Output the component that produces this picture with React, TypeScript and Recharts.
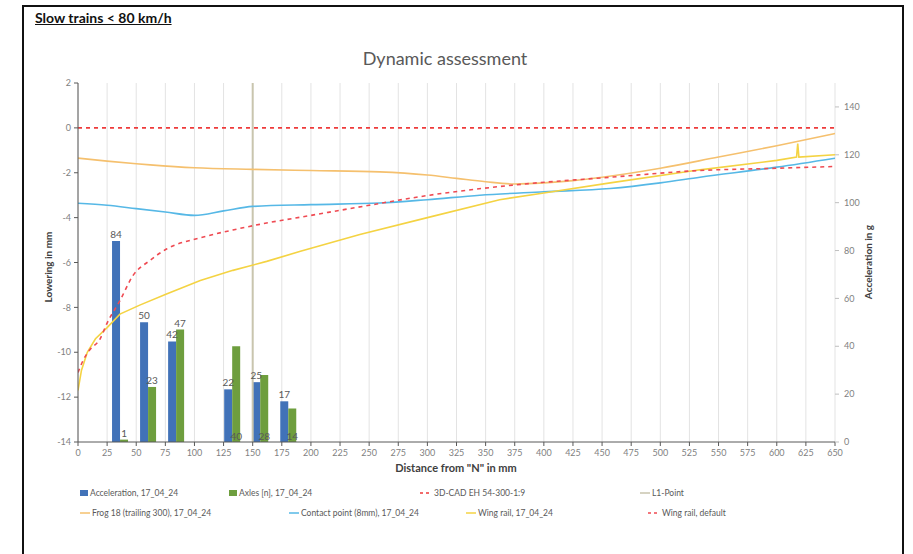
import React from 'react';
import { ComposedChart, Bar, Line, XAxis, YAxis, CartesianGrid, LabelList } from 'recharts';

// Category slots for the bar series (one per 25 mm step)
const slots = [0, 25, 50, 75, 100, 125, 150, 175, 200, 225, 250, 275, 300, 325, 350, 375, 400, 425, 450, 475, 500, 525, 550, 575, 600, 625, 650];
const acceleration = [null, 84, 50, 42, null, 22, 25, 17, null, null, null, null, null, null, null, null, null, null, null, null, null, null, null, null, null, null, null];
const axles = [null, 1, 23, 47, null, 40, 28, 14, null, null, null, null, null, null, null, null, null, null, null, null, null, null, null, null, null, null, null];
const axlesLabelAtBase = [125, 150, 175];

// Line series (distance in mm, lowering in mm)
const cadX = [0, 650];
const cadY = [0, 0];

const l1X = [150, 150];
const l1Y = [2, -14];

const frogX = [0, 25, 50, 62, 100, 150, 200, 259, 300, 325, 350, 375, 400, 425, 450, 500, 550, 600, 650];
const frogY = [-1.35, -1.48, -1.6, -1.65, -1.78, -1.85, -1.9, -1.96, -2.1, -2.25, -2.4, -2.5, -2.45, -2.35, -2.2, -1.8, -1.3, -0.8, -0.25];

const contactX = [0, 25, 50, 75, 100, 125, 150, 200, 259, 300, 345, 400, 457, 500, 534, 600, 650];
const contactY = [-3.36, -3.45, -3.6, -3.75, -3.9, -3.7, -3.5, -3.42, -3.35, -3.2, -3.0, -2.85, -2.7, -2.45, -2.2, -1.75, -1.35];

const wingX = [0, 3, 8, 15, 25, 36, 53, 76, 105, 133, 162, 191, 242, 300, 362, 400, 457, 534, 600, 617, 618, 619, 650];
const wingY = [-11.7, -10.8, -10.0, -9.4, -8.9, -8.3, -7.9, -7.4, -6.8, -6.35, -5.95, -5.5, -4.75, -4.0, -3.2, -2.9, -2.45, -1.87, -1.45, -1.3, -0.7, -1.3, -1.2];

const wingDefX = [0, 5, 10, 19, 25, 36, 47, 62, 76, 105, 133, 156, 200, 250, 302, 374, 457, 534, 600, 650];
const wingDefY = [-10.9, -10.3, -9.9, -9.4, -8.7, -7.7, -6.6, -5.9, -5.4, -4.9, -4.55, -4.3, -3.9, -3.45, -3.0, -2.55, -2.2, -1.9, -1.8, -1.72];

const xTicks = slots;
const leftTicks = [2, 0, -2, -4, -6, -8, -10, -12, -14];
const rightTicks = [0, 20, 40, 60, 80, 100, 120, 140];

const barData = slots.map((s, i) => ({ slot: s, acc: acceleration[i], ax: axles[i] }));
const pts = (xs: number[], ys: number[]) => xs.map((x, i) => ({ x, y: ys[i] }));
// slots of the rendered (non-empty) axle bars, in drawing order
const axleSlots = slots.filter((_, i) => axles[i] !== null);

const C = {
  acc: '#4172B8',
  ax: '#6E9E3E',
  cad: '#EE3B3B',
  l1: '#C9C5AE',
  frog: '#F5C06E',
  contact: '#56B8E6',
  wing: '#F4D343',
  wingDef: '#EF4A52',
  text: '#595959',
};

const FONT = 'Lato, "Liberation Sans", sans-serif';

const axLabel = (props: any) => {
  const { x, y, width, height, value, index } = props;
  if (value === null || value === undefined) return null;
  const atBase = axlesLabelAtBase.includes(axleSlots[index]);
  const ty = atBase ? Number(y) + Number(height) - 2 : Number(y) - 3;
  return (
    <text x={Number(x) + Number(width) / 2} y={ty} textAnchor="middle" fontSize={10} fill={C.text} fontFamily={FONT}>
      {value}
    </text>
  );
};

const legendItems = [
  { label: 'Acceleration, 17_04_24', kind: 'bar', color: C.acc, x: 80, y: 493 },
  { label: 'Axles [n], 17_04_24', kind: 'bar', color: C.ax, x: 229, y: 493 },
  { label: '3D-CAD EH 54-300-1:9', kind: 'dash', color: C.cad, x: 420, y: 493 },
  { label: 'L1-Point', kind: 'line', color: C.l1, x: 640, y: 493 },
  { label: 'Frog 18 (trailing 300), 17_04_24', kind: 'line', color: C.frog, x: 80, y: 513 },
  { label: 'Contact point (8mm), 17_04_24', kind: 'line', color: C.contact, x: 289, y: 513 },
  { label: 'Wing rail, 17_04_24', kind: 'line', color: C.wing, x: 466, y: 513 },
  { label: 'Wing rail, default', kind: 'dash', color: C.wingDef, x: 648, y: 513 },
];

function Swatch({ kind, color }: { kind: string; color: string }) {
  if (kind === 'bar') return <span style={{ display: 'inline-block', width: 8, height: 6, background: color, marginRight: 2 }} />;
  if (kind === 'dash')
    return (
      <svg width={12} height={6} style={{ marginRight: 2 }}>
        <line x1={0} y1={3} x2={12} y2={3} stroke={color} strokeWidth={1.5} strokeDasharray="3 3" />
      </svg>
    );
  return (
    <svg width={10} height={6} style={{ marginRight: 2 }}>
      <line x1={0} y1={3} x2={10} y2={3} stroke={color} strokeWidth={1.5} />
    </svg>
  );
}

export default function App() {
  return (
    <div style={{ position: 'absolute', left: 0, top: 0, width: 913, height: 554, background: '#fff', overflow: 'hidden', fontFamily: FONT }}>
      <div style={{ position: 'absolute', left: 22, top: 5, width: 878, height: 570, border: '2px solid #111' }} />
      <div style={{ position: 'absolute', left: 35, top: 9, fontSize: 14, fontWeight: 700, textDecoration: 'underline', color: '#111' }}>
        Slow trains &lt; 80 km/h
      </div>
      <div style={{ position: 'absolute', left: 0, width: 890, top: 47, textAlign: 'center', fontSize: 18, color: C.text }}>
        Dynamic assessment
      </div>
      <div style={{ position: 'absolute', left: 0, top: 0 }}>
        <ComposedChart width={913} height={554} data={barData} margin={{ top: 83, right: 28, bottom: 82, left: 28 }} barGap={0}>
          <CartesianGrid xAxisId="num" yAxisId="left" horizontal={false} vertical stroke="#E3E3E3" />
          <XAxis xAxisId="cat" dataKey="slot" type="category" hide height={0} />
          <XAxis
            xAxisId="num"
            dataKey="x"
            type="number"
            domain={[0, 650]}
            ticks={xTicks}
            interval={0}
            allowDataOverflow
            height={30}
            tickSize={4}
            tickMargin={4}
            stroke="#595959"
            tick={{ fontSize: 9, fill: '#7F7F7F', fontFamily: FONT }}
          />
          <YAxis
            yAxisId="left"
            orientation="left"
            domain={[-14, 2]}
            ticks={leftTicks}
            interval={0}
            allowDataOverflow
            width={50}
            tickSize={4}
            tickMargin={3}
            stroke="#595959"
            tick={{ fontSize: 9, fill: '#7F7F7F', fontFamily: FONT }}
          />
          <YAxis
            yAxisId="right"
            orientation="right"
            domain={[0, 150]}
            ticks={rightTicks}
            interval={0}
            allowDataOverflow
            width={50}
            axisLine={false}
            tickSize={4}
            tickMargin={5}
            stroke="#BFBFBF"
            tick={{ fontSize: 9, fill: '#7F7F7F', fontFamily: FONT }}
          />
          <Bar xAxisId="cat" yAxisId="right" dataKey="acc" fill={C.acc} barSize={8} isAnimationActive={false}>
            <LabelList dataKey="acc" position="top" offset={3} fontSize={10} fill={C.text} fontFamily={FONT} />
          </Bar>
          <Bar xAxisId="cat" yAxisId="right" dataKey="ax" fill={C.ax} barSize={8} isAnimationActive={false}>
            <LabelList dataKey="ax" content={axLabel} />
          </Bar>
          <Line xAxisId="num" yAxisId="left" data={pts(cadX, cadY)} dataKey="y" stroke={C.cad} strokeWidth={1.6} strokeDasharray="4 4" dot={false} isAnimationActive={false} />
          <Line xAxisId="num" yAxisId="left" data={pts(l1X, l1Y)} dataKey="y" stroke={C.l1} strokeWidth={2} dot={false} isAnimationActive={false} />
          <Line xAxisId="num" yAxisId="left" data={pts(frogX, frogY)} dataKey="y" type="monotone" stroke={C.frog} strokeWidth={1.6} dot={false} isAnimationActive={false} />
          <Line xAxisId="num" yAxisId="left" data={pts(contactX, contactY)} dataKey="y" type="monotone" stroke={C.contact} strokeWidth={1.6} dot={false} isAnimationActive={false} />
          <Line xAxisId="num" yAxisId="left" data={pts(wingX, wingY)} dataKey="y" type="linear" stroke={C.wing} strokeWidth={1.6} dot={false} isAnimationActive={false} />
          <Line xAxisId="num" yAxisId="left" data={pts(wingDefX, wingDefY)} dataKey="y" type="monotone" stroke={C.wingDef} strokeWidth={1.6} strokeDasharray="4 4" dot={false} isAnimationActive={false} />
        </ComposedChart>
      </div>
      <div style={{ position: 'absolute', left: 48, top: 267, transform: 'translate(-50%, -50%) rotate(-90deg)', fontSize: 10, fontWeight: 700, color: '#404040', whiteSpace: 'nowrap' }}>
        Lowering in mm
      </div>
      <div style={{ position: 'absolute', left: 868, top: 262, transform: 'translate(-50%, -50%) rotate(-90deg)', fontSize: 10, fontWeight: 700, color: '#404040', whiteSpace: 'nowrap' }}>
        Acceleration in g
      </div>
      <div style={{ position: 'absolute', left: 456, top: 467, transform: 'translate(-50%, -50%)', fontSize: 11, fontWeight: 700, color: '#404040', whiteSpace: 'nowrap' }}>
        Distance from "N" in mm
      </div>
      {legendItems.map((it) => (
        <div key={it.label} style={{ position: 'absolute', left: it.x, top: it.y, transform: 'translateY(-50%)', display: 'flex', alignItems: 'center', fontSize: 8.5, color: C.text, whiteSpace: 'nowrap' }}>
          <Swatch kind={it.kind} color={it.color} />
          {it.label}
        </div>
      ))}
    </div>
  );
}
